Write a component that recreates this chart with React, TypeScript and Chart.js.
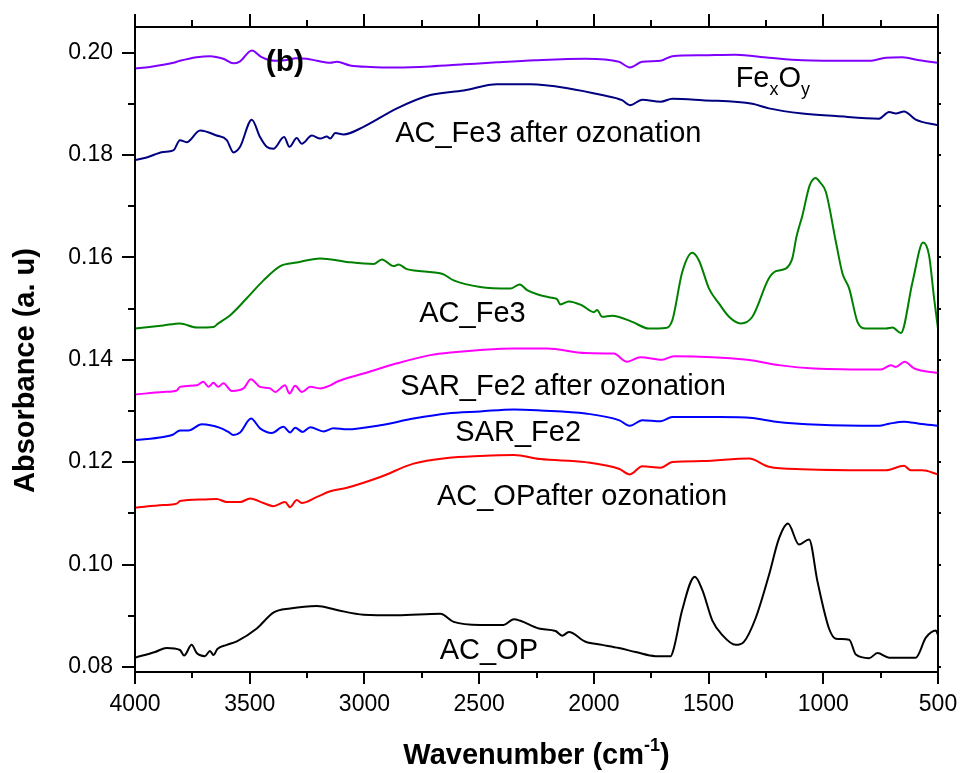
import React, { useEffect, useRef } from 'react';
import { Chart, registerables } from 'chart.js';

Chart.register(...registerables);

// ---------- data (wavenumber cm-1, absorbance a.u.) ----------
const FEXOY_WN = [4000, 3935, 3833, 3804, 3731, 3673, 3615, 3571, 3542, 3491, 3448, 3411, 3380, 3330, 3300, 3251, 3207, 3149, 3120, 3062, 2975, 2858, 2713, 2567, 2422, 2255, 2036, 1891, 1843, 1789, 1709, 1658, 1527, 1382, 1237, 1091, 873, 800, 727, 655, 582, 500];
const FEXOY_ABS = [0.1969, 0.1972, 0.1980, 0.1984, 0.1991, 0.1993, 0.1988, 0.1979, 0.1983, 0.2004, 0.1991, 0.1985, 0.1984, 0.1986, 0.1989, 0.1988, 0.1984, 0.1980, 0.1982, 0.1975, 0.1972, 0.1971, 0.1973, 0.1977, 0.1981, 0.1985, 0.1988, 0.1982, 0.1971, 0.1982, 0.1984, 0.1993, 0.1995, 0.1996, 0.1990, 0.1985, 0.1984, 0.1984, 0.1990, 0.1991, 0.1985, 0.1980];

const ACFE3_OZ_WN = [4000, 3949, 3877, 3833, 3804, 3775, 3716, 3644, 3600, 3571, 3542, 3491, 3455, 3426, 3397, 3350, 3327, 3295, 3273, 3229, 3193, 3164, 3149, 3127, 3091, 3004, 2858, 2713, 2567, 2422, 2276, 2109, 1964, 1877, 1843, 1789, 1709, 1658, 1527, 1309, 1237, 1091, 945, 757, 713, 684, 648, 597, 500];
const ACFE3_OZ_ABS = [0.1790, 0.1795, 0.1806, 0.1809, 0.1829, 0.1825, 0.1848, 0.1838, 0.1829, 0.1805, 0.1816, 0.1869, 0.1835, 0.1816, 0.1812, 0.1835, 0.1816, 0.1833, 0.1822, 0.1838, 0.1832, 0.1836, 0.1832, 0.1843, 0.1840, 0.1855, 0.1891, 0.1917, 0.1926, 0.1938, 0.1938, 0.1930, 0.1917, 0.1907, 0.1897, 0.1908, 0.1904, 0.1910, 0.1907, 0.1900, 0.1891, 0.1881, 0.1876, 0.1871, 0.1884, 0.1881, 0.1885, 0.1869, 0.1858];

const ACFE3_WN = [4000, 3877, 3804, 3731, 3658, 3637, 3585, 3513, 3440, 3367, 3295, 3193, 3076, 2960, 2924, 2873, 2851, 2815, 2662, 2611, 2495, 2364, 2323, 2291, 2240, 2182, 2160, 2146, 2109, 2051, 2000, 1986, 1964, 1920, 1833, 1760, 1688, 1658, 1615, 1571, 1542, 1498, 1455, 1411, 1360, 1309, 1237, 1207, 1164, 1135, 1117, 1091, 1059, 1033, 1015, 989, 945, 916, 887, 851, 815, 727, 698, 662, 611, 565, 539, 517, 500];
const ACFE3_ABS = [0.1461, 0.1467, 0.1471, 0.1463, 0.1464, 0.1471, 0.1487, 0.1520, 0.1555, 0.1583, 0.1590, 0.1598, 0.1591, 0.1587, 0.1596, 0.1583, 0.1586, 0.1577, 0.1568, 0.1555, 0.1542, 0.1539, 0.1547, 0.1536, 0.1527, 0.1521, 0.1518, 0.1508, 0.1514, 0.1506, 0.1493, 0.1497, 0.1484, 0.1486, 0.1474, 0.1461, 0.1462, 0.1477, 0.1571, 0.1609, 0.1594, 0.1539, 0.1510, 0.1484, 0.1471, 0.1484, 0.1559, 0.1573, 0.1578, 0.1598, 0.1640, 0.1682, 0.1741, 0.1755, 0.1747, 0.1728, 0.1630, 0.1568, 0.1539, 0.1474, 0.1461, 0.1461, 0.1463, 0.1452, 0.1552, 0.1629, 0.1604, 0.1520, 0.1461];

const SARFE2_OZ_WN = [4000, 3877, 3818, 3804, 3731, 3702, 3680, 3658, 3637, 3615, 3578, 3527, 3495, 3455, 3411, 3389, 3346, 3327, 3302, 3273, 3236, 3193, 3149, 3120, 3004, 2858, 2713, 2600, 2495, 2350, 2204, 2036, 1913, 1855, 1797, 1702, 1651, 1331, 1186, 1040, 749, 705, 684, 645, 604, 500];
const SARFE2_OZ_ABS = [0.1332, 0.1337, 0.1340, 0.1347, 0.1350, 0.1357, 0.1347, 0.1355, 0.1347, 0.1354, 0.1339, 0.1344, 0.1362, 0.1347, 0.1344, 0.1337, 0.1350, 0.1334, 0.1349, 0.1337, 0.1347, 0.1344, 0.1350, 0.1357, 0.1373, 0.1393, 0.1409, 0.1415, 0.1419, 0.1422, 0.1422, 0.1413, 0.1412, 0.1396, 0.1405, 0.1400, 0.1407, 0.1400, 0.1389, 0.1383, 0.1381, 0.1389, 0.1386, 0.1396, 0.1383, 0.1374];

const SARFE2_WN = [4000, 3877, 3833, 3804, 3767, 3709, 3629, 3593, 3571, 3542, 3494, 3455, 3404, 3353, 3324, 3302, 3269, 3236, 3178, 3135, 3076, 2931, 2786, 2640, 2495, 2349, 2233, 2036, 1891, 1843, 1789, 1709, 1658, 1455, 1309, 1207, 1018, 757, 713, 648, 582, 500];
const SARFE2_ABS = [0.1243, 0.1249, 0.1254, 0.1262, 0.1262, 0.1274, 0.1267, 0.1259, 0.1253, 0.1258, 0.1285, 0.1266, 0.1257, 0.1269, 0.1258, 0.1267, 0.1259, 0.1268, 0.1260, 0.1266, 0.1264, 0.1272, 0.1285, 0.1295, 0.1299, 0.1303, 0.1301, 0.1295, 0.1282, 0.1271, 0.1282, 0.1280, 0.1288, 0.1288, 0.1286, 0.1279, 0.1273, 0.1271, 0.1275, 0.1279, 0.1275, 0.1271];

const ACOP_OZ_WN = [4000, 3877, 3818, 3804, 3702, 3644, 3600, 3542, 3498, 3440, 3397, 3346, 3324, 3295, 3273, 3207, 3149, 3076, 2931, 2786, 2640, 2495, 2349, 2233, 2036, 1891, 1843, 1789, 1709, 1658, 1527, 1324, 1237, 1091, 727, 648, 619, 568, 500];
const ACOP_OZ_ABS = [0.1111, 0.1116, 0.1119, 0.1124, 0.1127, 0.1128, 0.1122, 0.1122, 0.1129, 0.1120, 0.1114, 0.1122, 0.1112, 0.1126, 0.1120, 0.1132, 0.1143, 0.1150, 0.1171, 0.1197, 0.1208, 0.1212, 0.1214, 0.1206, 0.1200, 0.1187, 0.1176, 0.1192, 0.1189, 0.1200, 0.1202, 0.1207, 0.1191, 0.1186, 0.1184, 0.1193, 0.1184, 0.1184, 0.1176];

const ACOP_WN = [4000, 3913, 3862, 3804, 3786, 3753, 3731, 3695, 3673, 3658, 3641, 3600, 3556, 3469, 3397, 3324, 3207, 3120, 3004, 2858, 2669, 2611, 2495, 2393, 2349, 2320, 2240, 2167, 2138, 2109, 2036, 1964, 1891, 1818, 1731, 1665, 1651, 1615, 1560, 1527, 1484, 1440, 1382, 1346, 1295, 1237, 1193, 1154, 1106, 1062, 1025, 975, 945, 887, 858, 800, 764, 713, 597, 553, 509, 500];
const ACOP_ABS = [0.0818, 0.0829, 0.0837, 0.0833, 0.0822, 0.0843, 0.0827, 0.0821, 0.0831, 0.0823, 0.0835, 0.0843, 0.0850, 0.0875, 0.0906, 0.0914, 0.0919, 0.0911, 0.0902, 0.0901, 0.0904, 0.0888, 0.0882, 0.0882, 0.0893, 0.0890, 0.0875, 0.0870, 0.0861, 0.0868, 0.0849, 0.0843, 0.0837, 0.0829, 0.0821, 0.0821, 0.0837, 0.0911, 0.0976, 0.0950, 0.0891, 0.0862, 0.0843, 0.0849, 0.0895, 0.0979, 0.1051, 0.1080, 0.1039, 0.1049, 0.0966, 0.0875, 0.0855, 0.0853, 0.0824, 0.0817, 0.0827, 0.0818, 0.0818, 0.0857, 0.0871, 0.0862];

const SERIES_NAMES = ['FexOy', 'AC_Fe3 after ozonation', 'AC_Fe3', 'SAR_Fe2 after ozonation', 'SAR_Fe2', 'AC_OPafter ozonation', 'AC_OP'];

// ---------- axis ticks ----------
const X_TICKS = [4000, 3500, 3000, 2500, 2000, 1500, 1000, 500];
const X_MINOR = [3750, 3250, 2750, 2250, 1750, 1250, 750];
const Y_TICKS = [0.08, 0.10, 0.12, 0.14, 0.16, 0.18, 0.20];
const Y_MINOR = [0.09, 0.11, 0.13, 0.15, 0.17, 0.19];

// ---------- styles / layout ----------
const COLORS = ['#8000ff', '#000080', '#008000', '#ff00ff', '#0000ff', '#ff0000', '#000000'];
const FONT = "'Liberation Sans', Arial, Helvetica, sans-serif";

// in-plot labels anchored in data coordinates (left, baseline)
const ANNOTATIONS = [
  { text: 'AC_Fe3 after ozonation', wn: 2866, abs: 0.1825 },
  { text: 'AC_Fe3', wn: 2761, abs: 0.1474 },
  { text: 'SAR_Fe2 after ozonation', wn: 2844, abs: 0.1332 },
  { text: 'SAR_Fe2', wn: 2604, abs: 0.1241 },
  { text: 'AC_OPafter ozonation', wn: 2684, abs: 0.1116 },
  { text: 'AC_OP', wn: 2672, abs: 0.0815 },
];

const decorPlugin = {
  id: 'decor',
  afterDatasetsDraw(chart: any) {
    const { ctx, scales } = chart;
    const xs = scales.x;
    const ys = scales.y;
    ctx.save();
    ctx.fillStyle = '#000';
    ctx.textBaseline = 'alphabetic';
    ctx.textAlign = 'left';
    ctx.font = `29px ${FONT}`;
    for (const an of ANNOTATIONS) {
      ctx.fillText(an.text, xs.getPixelForValue(an.wn), ys.getPixelForValue(an.abs));
    }
    // FexOy with subscripts
    let fx = xs.getPixelForValue(1382);
    const fy = ys.getPixelForValue(0.1933);
    const parts: [string, boolean][] = [['Fe', false], ['x', true], ['O', false], ['y', true]];
    for (const [t, sub] of parts) {
      ctx.font = sub ? `18px ${FONT}` : `29px ${FONT}`;
      ctx.fillText(t, fx, fy + (sub ? 8 : 0));
      fx += ctx.measureText(t).width;
    }
    // (b)
    ctx.font = `bold 30px ${FONT}`;
    ctx.fillText('(b)', xs.getPixelForValue(3430), ys.getPixelForValue(0.19646));
    ctx.restore();
  },
  afterDraw(chart: any) {
    const { ctx, chartArea: a, scales } = chart;
    const xs = scales.x;
    const ys = scales.y;
    ctx.save();
    ctx.strokeStyle = '#000';
    ctx.lineWidth = 2;
    ctx.strokeRect(a.left, a.top, a.right - a.left, a.bottom - a.top);
    ctx.beginPath();
    const xt = (v: number, major: boolean) => {
      const p = Math.round(xs.getPixelForValue(v));
      ctx.moveTo(p, a.bottom);
      ctx.lineTo(p, a.bottom + (major ? 12 : 6));
      ctx.moveTo(p, a.top);
      ctx.lineTo(p, a.top - (major ? 13 : 7));
    };
    const yt = (v: number, major: boolean) => {
      const p = Math.round(ys.getPixelForValue(v));
      ctx.moveTo(a.left, p);
      ctx.lineTo(a.left - (major ? 13 : 7), p);
      ctx.moveTo(a.right, p);
      ctx.lineTo(a.right + 3, p);
    };
    X_TICKS.forEach((v) => xt(v, true));
    X_MINOR.forEach((v) => xt(v, false));
    Y_TICKS.forEach((v) => yt(v, true));
    Y_MINOR.forEach((v) => yt(v, false));
    ctx.stroke();

    // axis titles
    ctx.fillStyle = '#000';
    ctx.textBaseline = 'alphabetic';
    ctx.textAlign = 'left';
    const main = 'Wavenumber (cm';
    const sup = '-1';
    const close = ')';
    ctx.font = `bold 29px ${FONT}`;
    const w1 = ctx.measureText(main).width;
    const w3 = ctx.measureText(close).width;
    ctx.font = `bold 18px ${FONT}`;
    const w2 = ctx.measureText(sup).width;
    const total = w1 + w2 + w3;
    let tx = (a.left + a.right) / 2 - total / 2;
    const ty = 764;
    ctx.font = `bold 29px ${FONT}`;
    ctx.fillText(main, tx, ty);
    tx += w1;
    ctx.font = `bold 18px ${FONT}`;
    ctx.fillText(sup, tx, ty - 13);
    tx += w2;
    ctx.font = `bold 29px ${FONT}`;
    ctx.fillText(close, tx, ty);

    ctx.translate(34, 493);
    ctx.rotate(-Math.PI / 2);
    ctx.font = `bold 29px ${FONT}`;
    ctx.fillText('Absorbance (a. u)', 0, 0);
    ctx.restore();
  },
};

export default function App() {
  const ref = useRef<HTMLCanvasElement>(null);
  useEffect(() => {
    if (!ref.current) return;
    const wns = [FEXOY_WN, ACFE3_OZ_WN, ACFE3_WN, SARFE2_OZ_WN, SARFE2_WN, ACOP_OZ_WN, ACOP_WN];
    const abss = [FEXOY_ABS, ACFE3_OZ_ABS, ACFE3_ABS, SARFE2_OZ_ABS, SARFE2_ABS, ACOP_OZ_ABS, ACOP_ABS];
    const datasets = SERIES_NAMES.map((name, i) => ({
      label: name,
      data: wns[i].map((w, j) => ({ x: w, y: abss[i][j] })),
      borderColor: COLORS[i],
      backgroundColor: COLORS[i],
      borderWidth: 2,
      pointRadius: 0,
      cubicInterpolationMode: 'monotone' as const,
      fill: false,
    }));
    const chart = new Chart(ref.current, {
      type: 'line',
      data: { datasets },
      plugins: [decorPlugin],
      options: {
        animation: false,
        responsive: false,
        devicePixelRatio: 1,
        layout: { padding: { top: 27, right: 23, left: 0, bottom: 0 } },
        plugins: { legend: { display: false }, tooltip: { enabled: false } },
        scales: {
          x: {
            type: 'linear',
            reverse: true,
            min: 500,
            max: 4000,
            afterBuildTicks: (s: any) => {
              s.ticks = X_TICKS.map((v) => ({ value: v }));
            },
            afterFit: (s: any) => {
              s.height = 101;
              s.paddingLeft = 0;
              s.paddingRight = 0;
            },
            ticks: {
              font: { family: FONT, size: 23 },
              color: '#000',
              padding: 19,
              maxRotation: 0,
              autoSkip: false,
              callback: (v: any) => String(v),
            },
            grid: { display: false, drawTicks: false },
            border: { display: false },
          },
          y: {
            type: 'linear',
            min: 0.079,
            max: 0.205,
            afterBuildTicks: (s: any) => {
              s.ticks = Y_TICKS.map((v) => ({ value: v }));
            },
            afterFit: (s: any) => {
              s.width = 135;
              s.paddingTop = 0;
              s.paddingBottom = 0;
            },
            ticks: {
              font: { family: FONT, size: 23 },
              color: '#000',
              padding: 22,
              autoSkip: false,
              callback: (v: any) => Number(v).toFixed(2),
            },
            grid: { display: false, drawTicks: false },
            border: { display: false },
          },
        },
      },
    });
    return () => chart.destroy();
  }, []);
  return (
    <div style={{ position: 'absolute', left: 0, top: 0, width: 961, height: 773, background: '#fff' }}>
      <canvas ref={ref} width={961} height={773} />
    </div>
  );
}
